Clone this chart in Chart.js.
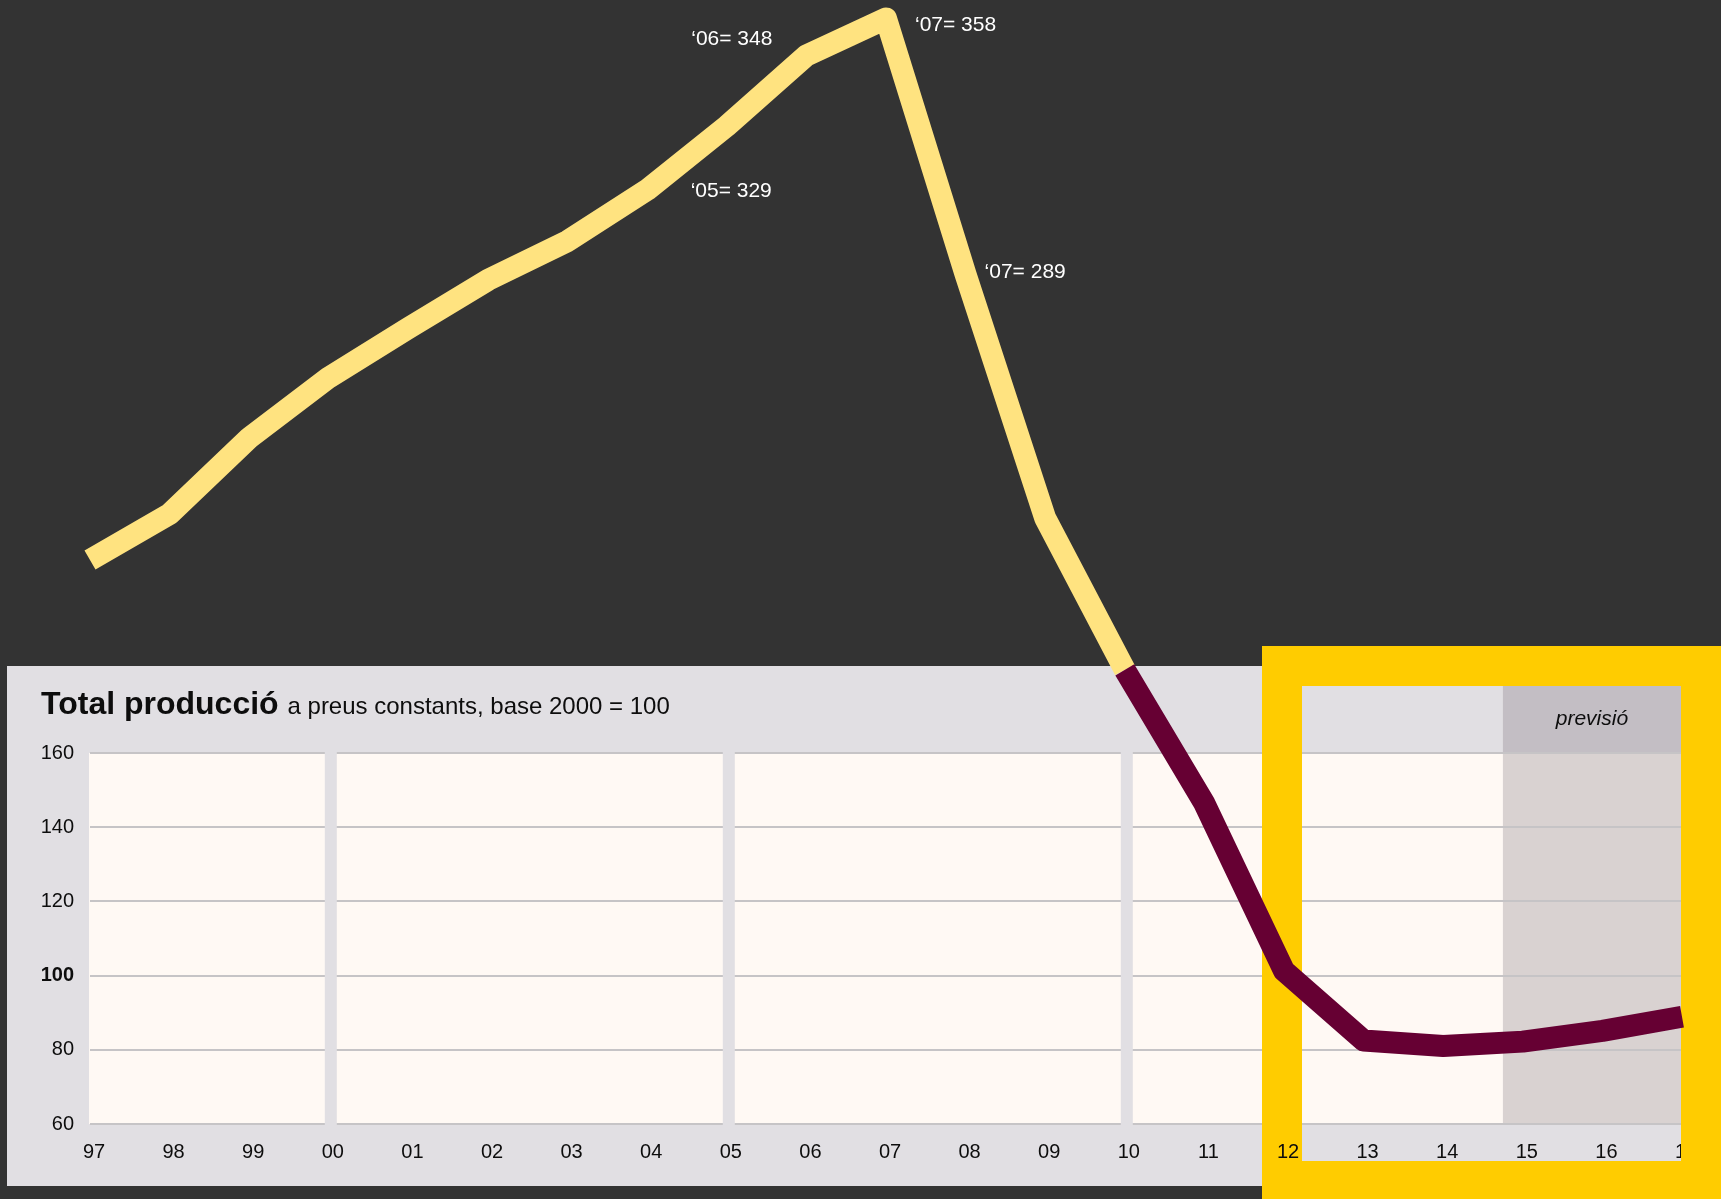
<!DOCTYPE html>
<html>
<head>
<meta charset="utf-8">
<script src="https://cdn.jsdelivr.net/npm/chart.js@4.4.1/dist/chart.umd.min.js"></script>
<style>
  html, body { margin: 0; padding: 0; background: #333333; }
  #wrap { width: 1721px; height: 1199px; position: relative; }
  canvas { display: block; }
</style>
</head>
<body>
<div id="wrap"><canvas id="c" width="1721" height="1199"></canvas></div>
<script>
// ---------- data ----------
const years = ['97','98','99','00','01','02','03','04','05','06','07','08','09','10','11','12','13','14','15','16','17'];
const production = [212, 224.4, 244.9, 261.2, 274.5, 287.5, 298, 311.8, 329, 348, 358, 289, 223.3, 182.4, 146.4, 101.3, 82.5, 81.0, 82.2, 85.1, 88.9];
const yTicks = [60, 80, 100, 120, 140, 160];
const separatorYears = ['00', '05', '10'];
const annotationYears = ['05', '06', '07', '08'];
const annotationTexts = ['‘05= 329', '‘06= 348', '‘07= 358', '‘07= 289'];
const titleBold = 'Total producció';
const titleRest = 'a preus constants, base 2000 = 100';
const forecastLabel = 'previsió';

// ---------- style ----------
const COL = {
  bg: '#333333', panel: '#e1dfe3', plot: '#fff9f4', grid: '#c6c4c6',
  lineHigh: '#ffe380', lineLow: '#660033', frame: '#ffcc00',
  forecastHead: '#c3bec4', forecastPlot: '#d9d2d1', text: '#0d0d0d'
};
const FONT = '"Liberation Sans", Arial, Helvetica, sans-serif';
const splitIndex = years.indexOf('10');          // colour changes from this point on
const forecastStartIndex = 17.75;                  // fractional category position where "previsió" band begins
const annotationLayout = [                         // text offsets relative to the data point
  { dx: 45, dy: 65, align: 'right' },
  { dx: -34, dy: -16, align: 'right' },
  { dx: 29, dy: 7, align: 'left' },
  { dx: 19, dy: -2, align: 'left' }
];
const PANEL = { left: 7, top: 666, bottom: 1186 };
const FRAME = { outerLeft: 1262, outerTop: 646, innerLeft: 1302, innerTop: 686, innerRight: 1681, innerBottom: 1161 };

const decor = {
  id: 'decor',
  beforeDraw(chart) {
    const ctx = chart.ctx, ca = chart.chartArea, y = chart.scales.y, x = chart.scales.x;
    const W = chart.width, H = chart.height;
    ctx.save();
    ctx.fillStyle = COL.bg; ctx.fillRect(0, 0, W, H);
    ctx.fillStyle = COL.panel; ctx.fillRect(PANEL.left, PANEL.top, W - PANEL.left, PANEL.bottom - PANEL.top);
    const top = y.getPixelForValue(160), bot = y.getPixelForValue(60);
    ctx.fillStyle = COL.plot; ctx.fillRect(ca.left - 1, top, FRAME.innerRight - ca.left + 1, bot - top);
    const fx = x.getPixelForValue(forecastStartIndex);
    ctx.fillStyle = COL.forecastHead; ctx.fillRect(fx, PANEL.top, FRAME.innerRight - fx, top - PANEL.top);
    ctx.fillStyle = COL.forecastPlot; ctx.fillRect(fx, top, FRAME.innerRight - fx, bot - top);
    // title
    ctx.fillStyle = COL.text; ctx.textBaseline = 'alphabetic'; ctx.textAlign = 'left';
    ctx.font = 'bold 32px ' + FONT;
    ctx.fillText(titleBold, 41, 714);
    const w = ctx.measureText(titleBold + ' ').width;
    ctx.font = '24px ' + FONT;
    ctx.fillText(titleRest, 41 + w, 714);
    // forecast label
    ctx.font = 'italic 21px ' + FONT; ctx.textAlign = 'center'; ctx.textBaseline = 'middle';
    ctx.fillText(forecastLabel, (fx + FRAME.innerRight) / 2, (FRAME.innerTop + top) / 2);
    ctx.restore();
  },
  beforeDatasetsDraw(chart) {
    const ctx = chart.ctx, y = chart.scales.y, x = chart.scales.x, W = chart.width, H = chart.height;
    const top = y.getPixelForValue(160), bot = y.getPixelForValue(60);
    ctx.save();
    ctx.fillStyle = COL.panel;
    separatorYears.forEach(yr => {
      const px = x.getPixelForValue(years.indexOf(yr)) + 2;
      ctx.fillRect(px - 6, top - 1, 12, bot - top + 3);
    });
    ctx.fillStyle = COL.frame;
    ctx.fillRect(FRAME.outerLeft, FRAME.outerTop, W - FRAME.outerLeft, FRAME.innerTop - FRAME.outerTop);
    ctx.fillRect(FRAME.outerLeft, FRAME.outerTop, FRAME.innerLeft - FRAME.outerLeft, H - FRAME.outerTop);
    ctx.fillRect(FRAME.innerRight, FRAME.outerTop, W - FRAME.innerRight, H - FRAME.outerTop);
    ctx.fillRect(FRAME.outerLeft, FRAME.innerBottom, W - FRAME.outerLeft, H - FRAME.innerBottom);
    ctx.restore();
  },
  afterDraw(chart) {
    const ctx = chart.ctx, y = chart.scales.y, x = chart.scales.x;
    ctx.save();
    ctx.fillStyle = '#ffffff'; ctx.font = '21px ' + FONT; ctx.textBaseline = 'middle';
    annotationYears.forEach((yr, k) => {
      const i = years.indexOf(yr);
      const L = annotationLayout[k];
      ctx.textAlign = L.align;
      ctx.fillText(annotationTexts[k], x.getPixelForValue(i) + L.dx, y.getPixelForValue(production[i]) + L.dy);
    });
    ctx.restore();
  }
};

new Chart(document.getElementById('c'), {
  type: 'line',
  data: {
    labels: years,
    datasets: [{
      data: production,
      borderWidth: 22,
      borderColor: COL.lineHigh,
      borderCapStyle: 'butt',
      borderJoinStyle: 'round',
      pointRadius: 0,
      tension: 0,
      fill: false,
      clip: false,
      segment: {
        borderColor: c => (c.p0DataIndex >= splitIndex ? COL.lineLow : COL.lineHigh)
      }
    }]
  },
  options: {
    responsive: false,
    animation: false,
    events: [],
    layout: { padding: { left: 0, top: 11, right: 39, bottom: 0 } },
    plugins: { legend: { display: false }, tooltip: { enabled: false }, title: { display: false } },
    scales: {
      x: {
        type: 'category',
        offset: false,
        grid: { display: false, drawTicks: false },
        border: { display: false },
        ticks: {
          z: 1, autoSkip: false, maxRotation: 0, minRotation: 0, padding: 16, labelOffset: 4,
          color: COL.text, font: { family: FONT, size: 20 }
        },
        afterFit: s => { s.height = 75; s.paddingLeft = 0; s.paddingRight = 0; },
        afterUpdate: s => {
          if (!s.__clipped) {
            const orig = s.drawLabels;
            s.drawLabels = function (ca) {
              const ctx = this.ctx;
              ctx.save(); ctx.beginPath(); ctx.rect(0, 0, FRAME.innerRight, this.chart.height); ctx.clip();
              orig.call(this, ca);
              ctx.restore();
            };
            s.__clipped = true;
          }
        }
      },
      y: {
        min: 60, max: 360,
        afterBuildTicks: s => { s.ticks = yTicks.map(v => ({ value: v })); },
        grid: {
          drawTicks: false, lineWidth: 2,
          color: c => (c.tick && c.tick.value <= 160 ? COL.grid : 'rgba(0,0,0,0)')
        },
        border: { display: false },
        ticks: {
          padding: 16, color: COL.text,
          font: c => ({ family: FONT, size: 20, weight: (c.tick && c.tick.value === 100) ? 'bold' : 'normal' })
        },
        afterFit: s => { s.width = 90; s.paddingTop = 0; s.paddingBottom = 0; }
      }
    }
  },
  plugins: [decor]
});
</script>
</body>
</html>
